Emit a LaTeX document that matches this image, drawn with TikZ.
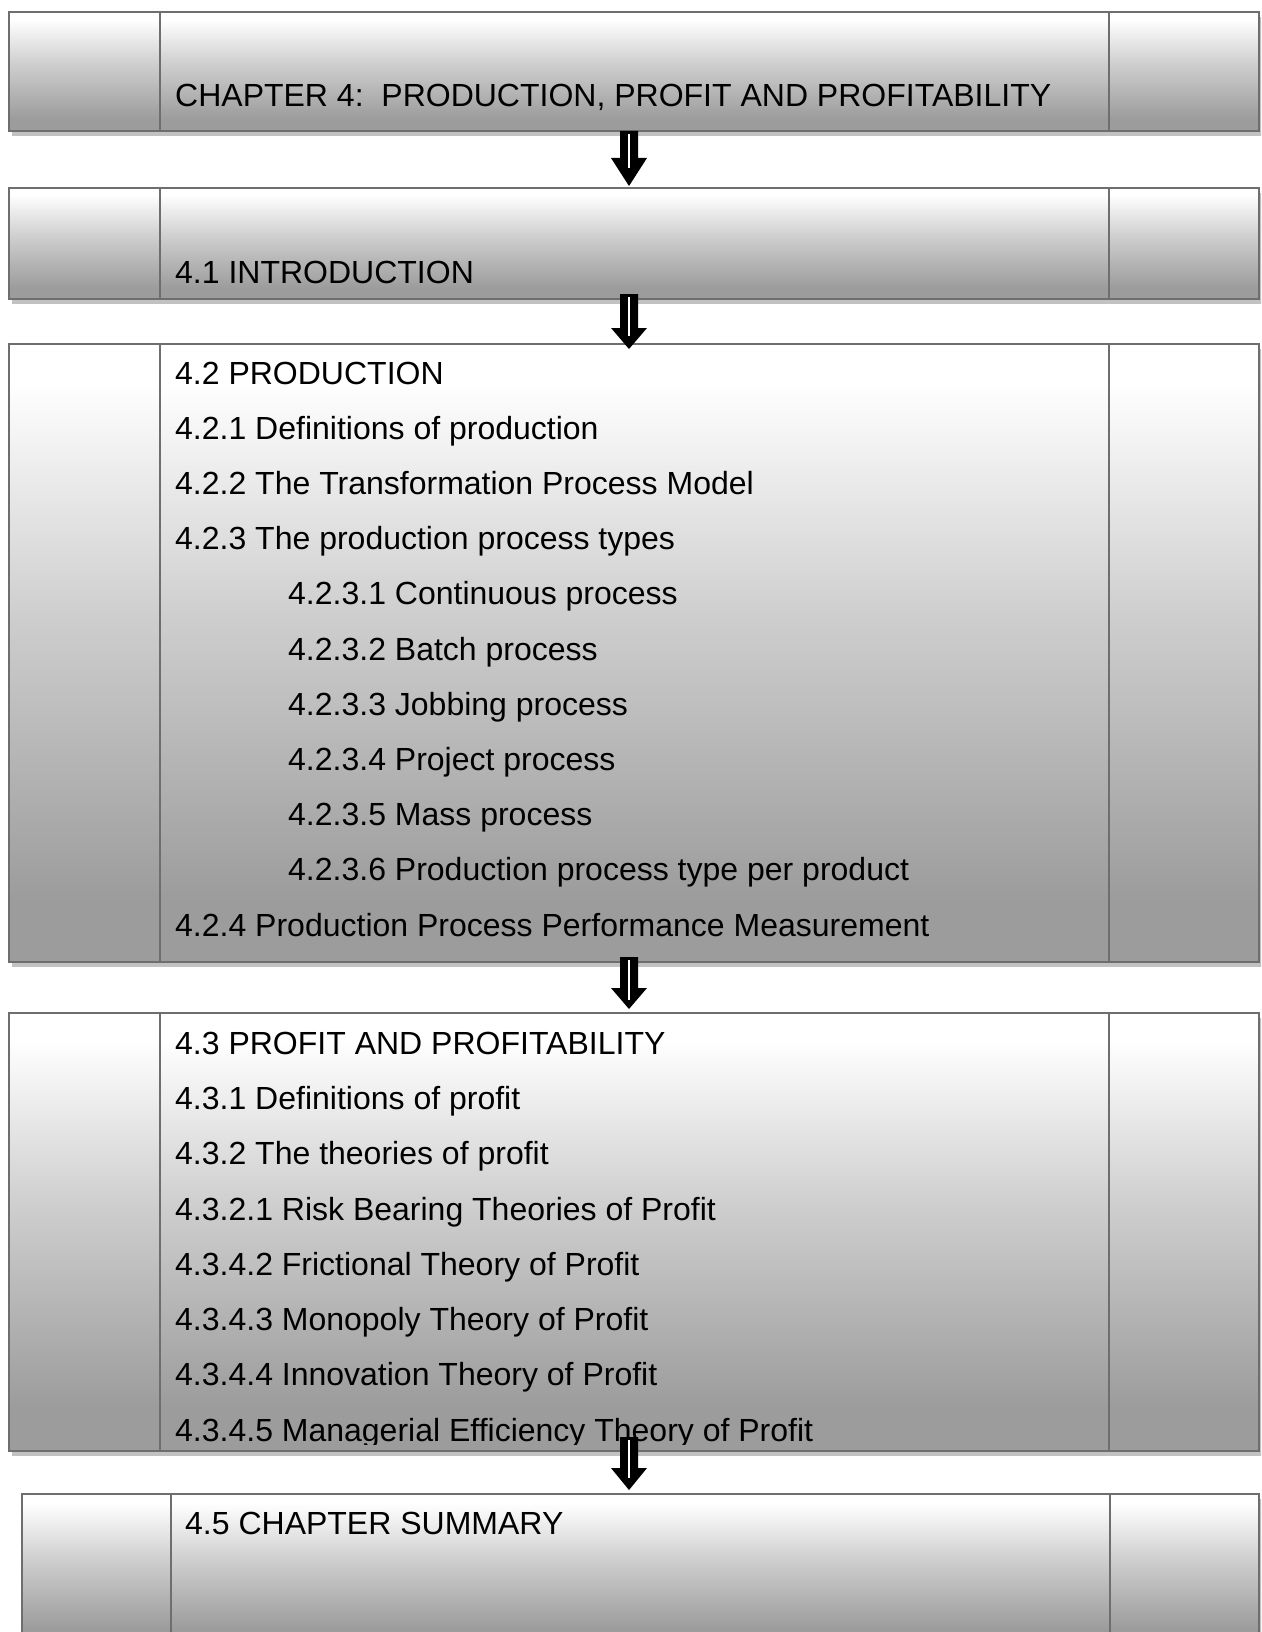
\documentclass[tikz,border=0pt]{standalone}
\usepackage{fontspec}
\setmainfont{Liberation Sans}
\usetikzlibrary{calc,shadows}

\definecolor{framegray}{HTML}{6E6E6E}
\definecolor{shadegray}{HTML}{9C9C9C}
\definecolor{midgray}{HTML}{CECECE}
\definecolor{dropgray}{HTML}{C2C2C2}

% white at the top, reaching the full grey a little above the bottom edge
\pgfdeclareverticalshading{panelshade}{100bp}{%
  color(0bp)=(shadegray); color(25bp)=(shadegray); color(30bp)=(shadegray);
  color(53bp)=(midgray); color(72bp)=(white); color(100bp)=(white)}

\tikzset{
  panel/.style={rectangle, draw=framegray, line width=2pt, inner sep=0pt,
    anchor=north west, shading=panelshade,
    general shadow={shadow xshift=3pt, shadow yshift=-5pt, fill=dropgray}},
  rule/.style={draw=framegray, line width=2pt},
  entry/.style={anchor=base west, inner sep=0pt, text=black,
    font=\fontsize{32}{38}\selectfont},
}

% block arrow: #1 top of shaft, #2 tip, #3 head length, #4 length of the white slit
\newcommand\flowarrow[4]{%
  \fill[black] ($(#1)+(-9,0)$) -- ($(#1)+(9,0)$) -- ($(#2)+(9,-#3)$)
    -- ($(#2)+(18,-#3)$) -- (#2) -- ($(#2)+(-18,-#3)$) -- ($(#2)+(-9,-#3)$) -- cycle;
  \draw[white, line width=2pt] ($(#1)+(0,3)$) -- ($(#1)+(0,#4)$);
}

\begin{document}
\begin{tikzpicture}[x=1pt, y=-1pt]
  \useasboundingbox (0,0) rectangle (1261,1632);
  \clip (0,0) rectangle (1261,1632);

  % panels
  \node[panel, minimum width=1250pt, minimum height=119pt] (b1) at (8,11) {};
  \node[panel, minimum width=1250pt, minimum height=111pt] (b2) at (8,187) {};
  \node[panel, minimum width=1250pt, minimum height=618pt] (b3) at (8,343) {};
  \node[panel, minimum width=1250pt, minimum height=438pt] (b4) at (8,1012) {};
  \node[panel, minimum width=1237pt, minimum height=150pt] (b5) at (21,1493) {};

  % column dividers
  \foreach \b in {b1,b2,b3,b4}{
    \draw[rule] ($(\b.north west)+(152,0)$) -- ($(\b.south west)+(152,0)$);
    \draw[rule] ($(\b.north east)+(-151,0)$) -- ($(\b.south east)+(-151,0)$);
  }
  \draw[rule] ($(b5.north west)+(150,0)$) -- ($(b5.south west)+(150,0)$);
  \draw[rule] ($(b5.north east)+(-150,0)$) -- ($(b5.south east)+(-150,0)$);

  % texts
  \node[entry] (t1) at (175,107) {CHAPTER 4:\ \ PRODUCTION, PROFIT AND PROFITABILITY};
  \node[entry] (t2) at (175,283) {4.1 INTRODUCTION};

  \node[entry] (p0) at (175,384.0) {4.2 PRODUCTION};
  \node[entry] (p1) at (175,439.2) {4.2.1 Definitions of production};
  \node[entry] (p2) at (175,494.4) {4.2.2 The Transformation Process Model};
  \node[entry] (p3) at (175,549.6) {4.2.3 The production process types};
  \node[entry] (p4) at (288,604.8) {4.2.3.1 Continuous process};
  \node[entry] (p5) at (288,660.0) {4.2.3.2 Batch process};
  \node[entry] (p6) at (288,715.2) {4.2.3.3 Jobbing process};
  \node[entry] (p7) at (288,770.4) {4.2.3.4 Project process};
  \node[entry] (p8) at (288,825.6) {4.2.3.5 Mass process};
  \node[entry] (p9) at (288,880.8) {4.2.3.6 Production process type per product};
  \node[entry] (p10) at (175,936.0) {4.2.4 Production Process Performance Measurement};

  \begin{scope}
    \clip (b4.north west) rectangle (1258,1444);
    \node[entry] (q0) at (175,1054.5) {4.3 PROFIT AND PROFITABILITY};
    \node[entry] (q1) at (175,1109.7) {4.3.1 Definitions of profit};
    \node[entry] (q2) at (175,1164.9) {4.3.2 The theories of profit};
    \node[entry] (q3) at (175,1220.1) {4.3.2.1 Risk Bearing Theories of Profit};
    \node[entry] (q4) at (175,1275.3) {4.3.4.2 Frictional Theory of Profit};
    \node[entry] (q5) at (175,1330.5) {4.3.4.3 Monopoly Theory of Profit};
    \node[entry] (q6) at (175,1385.7) {4.3.4.4 Innovation Theory of Profit};
    \node[entry] (q7) at (175,1441.5) {4.3.4.5 Managerial Efficiency Theory of Profit};
  \end{scope}

  \node[entry] (t5) at (185,1534) {4.5 CHAPTER SUMMARY};

  % arrows between the panels
  \coordinate (a1s) at (629,131);  \coordinate (a1e) at (629,186);
  \coordinate (a2s) at (629,294);  \coordinate (a2e) at (629,349);
  \coordinate (a3s) at (629,957);  \coordinate (a3e) at (629,1009);
  \coordinate (a4s) at (629,1437); \coordinate (a4e) at (629,1490);
  \flowarrow{a1s}{a1e}{28}{37}
  \flowarrow{a2s}{a2e}{21}{42}
  \flowarrow{a3s}{a3e}{21}{43}
  \flowarrow{a4s}{a4e}{22}{41}
\end{tikzpicture}
\end{document}
